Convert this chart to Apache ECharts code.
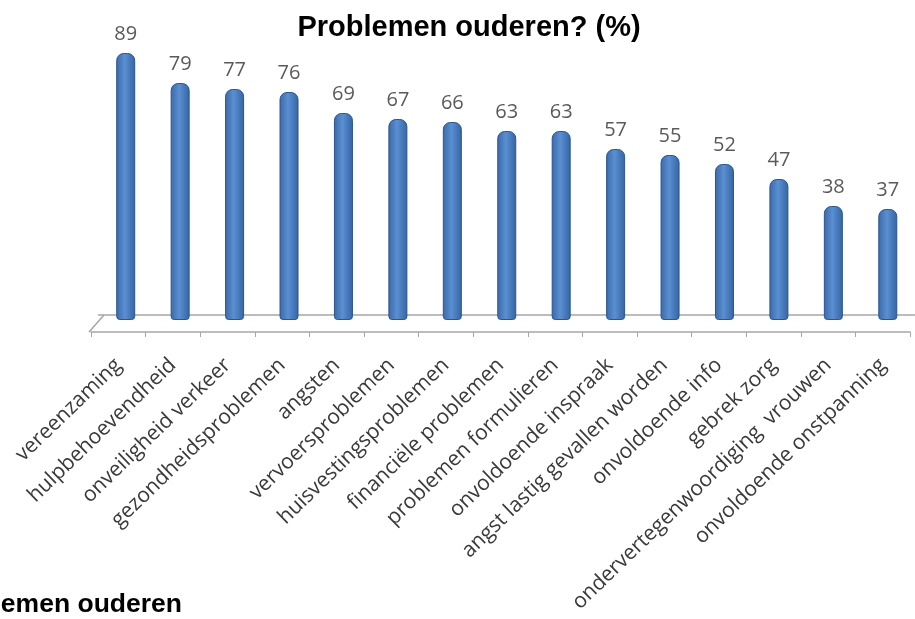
<!DOCTYPE html>
<html>
<head>
<meta charset="utf-8">
<script src="https://cdn.jsdelivr.net/npm/echarts@6/dist/echarts.min.js"></script>
<style>
html,body{margin:0;padding:0;background:#fff;}
#chart{width:915px;height:619px;}
</style>
</head>
<body>
<div id="chart"></div>
<script>
var categories = ["vereenzaming","hulpbehoevendheid","onveiligheid verkeer","gezondheidsproblemen","angsten","vervoersproblemen","huisvestingsproblemen","financiële problemen","problemen formulieren","onvoldoende inspraak","angst lastig gevallen worden","onvoldoende info","gebrek zorg","ondervertegenwoordiging  vrouwen","onvoldoende onstpanning"];
var values = [89,79,77,76,69,67,66,63,63,57,55,52,47,38,37];
var titleText = "Problemen ouderen? (%)";
var bottomText = "emen ouderen";

var chart = echarts.init(document.getElementById('chart'));
var barFill = new echarts.graphic.LinearGradient(0,0,1,0,[
  {offset:0,color:'#3a69a8'},
  {offset:0.45,color:'#5a8fd2'},
  {offset:1,color:'#3564a3'}
]);
chart.setOption({
  animation:false,
  backgroundColor:'#ffffff',
  title:{text:titleText,left:464,textAlign:'center',top:8,
    textStyle:{fontFamily:'Liberation Sans',fontWeight:'bold',fontSize:29,color:'#000'}},
  grid:[
    {left:98.5,width:819,top:20,height:300},
    {left:91,width:819,top:32,height:300}
  ],
  xAxis:[
    {type:'category',gridIndex:0,data:categories,offset:-5,
     axisLine:{show:true,lineStyle:{color:'#a6a6a6',width:1.5}},
     axisTick:{show:false},axisLabel:{show:false}},
    {type:'category',gridIndex:1,data:categories,
     axisLine:{show:true,lineStyle:{color:'#a6a6a6',width:1.5}},
     axisTick:{show:true,length:5,lineStyle:{color:'#a6a6a6'}},
     axisLabel:{interval:0,rotate:44,margin:30,fontFamily:'Open Sans',fontSize:21,color:'#3a3a3a'}}
  ],
  yAxis:[
    {type:'value',gridIndex:0,min:0,max:100,show:false},
    {type:'value',gridIndex:1,min:0,max:100,show:false}
  ],
  series:[{
    type:'bar',xAxisIndex:0,yAxisIndex:0,data:values,barWidth:19,
    itemStyle:{color:barFill,borderColor:'#2a568f',borderWidth:1,borderRadius:[7,7,3,3]},
    label:{show:true,position:'top',distance:9,fontFamily:'Open Sans',fontSize:20,color:'#5a5a5a'}
  }],
  graphic:[
    {type:'line',shape:{x1:89,y1:332,x2:104,y2:315},style:{stroke:'#a6a6a6',lineWidth:1.5},silent:true},
    {type:'text',x:182,y:618,style:{text:bottomText,textAlign:'right',textVerticalAlign:'bottom',
      font:'bold 26.5px "Liberation Sans"',fill:'#000'}}
  ]
});
</script>
</body>
</html>
